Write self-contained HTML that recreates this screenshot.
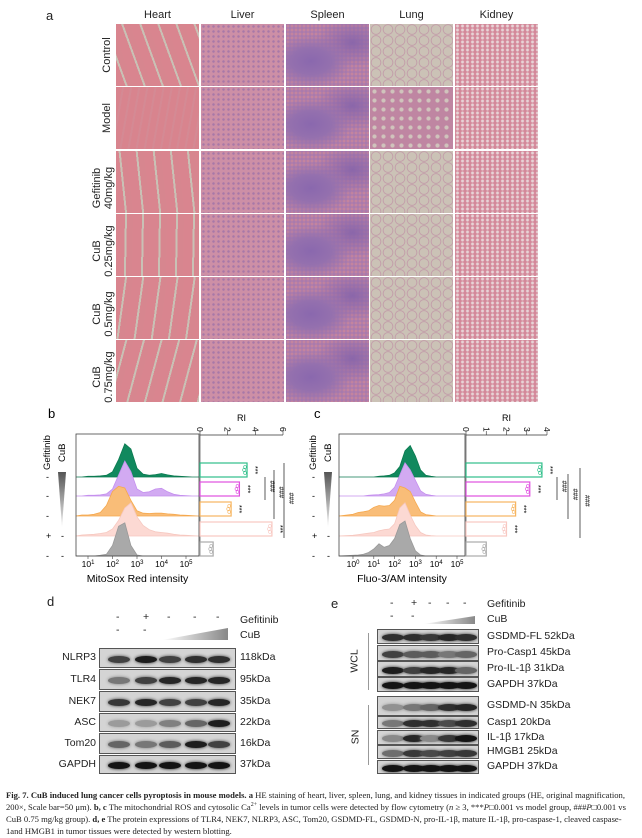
<!DOCTYPE html>
<html><head><meta charset="utf-8">
<style>
body{margin:0;background:#fff;width:642px;height:838px;overflow:hidden;position:relative;font-family:"Liberation Sans",sans-serif;color:#222}
.abs{position:absolute}
.cell{position:absolute;width:83px;height:62px}
.hdr{position:absolute;top:9px;font-size:11px;width:83px;text-align:center}
.rl{position:absolute;font-size:11px;transform:rotate(-90deg);transform-origin:center;text-align:center;line-height:12px;white-space:nowrap}
.blot{position:absolute;background:#d4d4d4;border:1px solid #555;box-sizing:border-box;overflow:hidden}
.band{position:absolute;border-radius:50%}
.lab{position:absolute;font-size:10.5px;white-space:nowrap}
.cap{position:absolute;left:6px;width:632px;font-family:"Liberation Serif",serif;font-size:8.6px;line-height:12px;color:#222}
</style></head><body>
<div class="abs" style="left:46px;top:8px;font-size:13px">a</div>
<div id="histo"></div>
<svg id="flow" class="abs" style="left:0;top:400px" width="642" height="195" viewBox="0 400 642 195"></svg>
<div id="blots"></div>
<div class="cap" style="top:789px"><b>Fig. 7. CuB induced lung cancer cells pyroptosis in mouse models. a</b> HE staining of heart, liver, spleen, lung, and kidney tissues in indicated groups (HE, original magnification, 200×, Scale bar=50 μm). <b>b, c</b> The mitochondrial ROS and cytosolic Ca<sup style="font-size:6px;line-height:0">2+</sup> levels in tumor cells were detected by flow cytometry (<i>n</i> ≥ 3, ***<i>P</i>□0.001 vs model group, ###<i>P</i>□0.001 vs CuB 0.75 mg/kg group). <b>d, e</b> The protein expressions of TLR4, NEK7, NLRP3, ASC, Tom20, GSDMD-FL, GSDMD-N, pro-IL-1β, mature IL-1β, pro-caspase-1, cleaved caspase-1and HMGB1 in tumor tissues were detected by western blotting.</div>
<script>
// ---------- Panel a histology (decorative) ----------
const organs=['Heart','Liver','Spleen','Lung','Kidney'];
const groups=[['Control'],['Model'],['Gefitinib','40mg/kg'],['CuB','0.25mg/kg'],['CuB','0.5mg/kg'],['CuB','0.75mg/kg']];
const colX=[116,201,286,370,455], rowY=[24,87,151,214,277,340];
const H=document.getElementById('histo');
function tex(o,r){
  if(o===0){ if(r===1) return 'repeating-linear-gradient(100deg,#d8848e 0 6px,#d48a94 6px 8px)';
    return 'repeating-linear-gradient('+(70+r*7)+'deg,#d9858f 0 9px,#c9c1b5 9px 11px,#d7868f 11px 17px)';}
  if(o===1) return 'radial-gradient(circle,#a878a8 0 1px,transparent 1.5px) 0 0/5px 5px,#cd8fa6';
  if(o===2) return 'radial-gradient(ellipse at 30% 60%,#8a68ae 0,#9470ae 25%,transparent 50%),radial-gradient(ellipse at 80% 30%,#8a66aa 0,transparent 40%),radial-gradient(circle,#c4849e 0 1px,transparent 2px) 0 0/4px 4px,#a87aae';
  if(o===3){ if(r===1) return 'radial-gradient(circle,#d0c4bc 0 25%,#bf86a2 40%) 0 0/9px 9px';
    return 'radial-gradient(circle,#cbc2b6 0 50%,#c094a6 60%,#cbc2b6 68%) 0 0/12px 11px';}
  return 'radial-gradient(circle,#e7d3d6 0 1px,transparent 2px) 0 0/5px 4px,#d38899';
}
organs.forEach((o,i)=>{const d=document.createElement('div');d.className='hdr';d.style.left=colX[i]+'px';d.textContent=o;

H.appendChild(d);});
groups.forEach((g,r)=>{
  const l=document.createElement('div');l.className='rl';l.style.width='62px';
  l.style.left=(g.length>1?72:76)+'px';l.style.top=(rowY[r]+25)+'px';l.innerHTML=g.join('<br>');
  
  H.appendChild(l);
  organs.forEach((o,i)=>{const c=document.createElement('div');c.className='cell';c.style.left=colX[i]+'px';c.style.top=rowY[r]+'px';
  c.style.background=tex(i,r);
  
  H.appendChild(c);});
});
</script>
<script>
// ---------- Panels b, c flow cytometry ----------
const sampleNames=['CuB-0.75','CuB-0.5','CuB-0.25','Gefitinib','Control'];
const bRI=[3.4,2.85,2.25,5.2,0.95];
const cRI=[3.75,3.15,2.45,2.0,1.0];
const bTicks=[0,2,4,6];
const cTicks=[0,1,2,3,4];
const logBins=[0,0.25,0.5,0.75,1,1.25,1.5,1.75,2,2.25,2.5,2.75,3,3.25,3.5,3.75,4,4.25,4.5,4.75,5,5.25,5.5];
const bGreen=[0,0,0,0,0.02,0.02,0.03,0.05,0.15,0.5,0.95,0.8,0.25,0.08,0.05,0.07,0.1,0.06,0.03,0.02,0.01,0,0];
const bPurple=[0,0,0,0,0.02,0.02,0.03,0.06,0.2,0.6,1.0,0.7,0.2,0.1,0.12,0.2,0.22,0.12,0.05,0.02,0.01,0,0];
const bOrange=[0.25,0.05,0.03,0.03,0.03,0.05,0.1,0.3,0.7,0.85,0.8,0.45,0.15,0.08,0.07,0.08,0.08,0.06,0.05,0.03,0.02,0.01,0];
const bPink=[0,0.02,0.03,0.03,0.04,0.05,0.07,0.1,0.2,0.45,0.8,0.95,0.55,0.3,0.18,0.12,0.1,0.08,0.05,0.03,0.02,0.01,0];
const bGray=[0,0,0,0,0,0,0.02,0.05,0.3,0.85,0.95,0.3,0.03,0,0,0,0,0,0,0,0,0,0];
const cGreen=[0,0,0,0,0,0.02,0.03,0.05,0.12,0.3,0.75,0.9,0.6,0.2,0.05,0.02,0,0,0,0,0,0,0];
const cPurple=[0,0,0,0.02,0.03,0.04,0.06,0.1,0.25,0.6,0.95,0.75,0.45,0.15,0.05,0.02,0,0,0,0,0,0,0];
const cOrange=[0.05,0.1,0.12,0.15,0.25,0.3,0.28,0.3,0.45,0.85,0.8,0.7,0.4,0.12,0.04,0.02,0,0,0,0,0,0,0];
const cPink=[0.02,0.04,0.06,0.08,0.1,0.15,0.18,0.2,0.35,0.8,0.95,0.6,0.3,0.1,0.03,0.01,0,0,0,0,0,0,0];
const cGray=[0.02,0.03,0.05,0.1,0.2,0.35,0.25,0.3,0.5,0.9,1.0,0.5,0.15,0.03,0,0,0,0,0,0,0,0,0];
const gefSigns=['-','-','-','+','-'];
const fills=['#11895e','#d2aaf2','#f9bd78','#fcd9d3','#a9a9a9'];
const strokes=['#0b7a50','#c590ee','#f5a84e','#f6c8c0','#999'];
const barStroke=['#2fbf8a','#e050e0','#f7b560','#f8c8c2','#aaa'];
const S=document.getElementById('flow');const NS='http://www.w3.org/2000/svg';
function el(t,a,txt){const e=document.createElementNS(NS,t);for(const k in a)e.setAttribute(k,a[k]);if(txt!==undefined)e.textContent=txt;S.appendChild(e);return e;}
const baselines=[477,496,516,536,556];
function panel(P){
  const bx=P.box;
  P.hists.forEach((h,i)=>{
    const base=baselines[i];let d='M'+bx[0]+','+base;
    logBins.forEach((L,k)=>{const x=P.xs(L);if(x<bx[0]||x>bx[1])return;d+=' L'+x.toFixed(1)+','+(base-h[k]*35).toFixed(1);});
    d+=' L'+bx[1]+','+base+' Z';
    const p=el('path',{d:d,fill:fills[i],stroke:strokes[i],'stroke-width':0.8});
    
    
  });
  const r=el('rect',{x:bx[0],y:434,width:bx[1]-bx[0],height:122,fill:'none',stroke:'#444','stroke-width':0.8});
  
  
  P.dec.forEach(L=>{const x=P.xs(L);el('line',{x1:x,y1:556,x2:x,y2:559,stroke:'#444','stroke-width':0.6});
    const t=el('text',{x:x,y:567,'font-size':8.5,'text-anchor':'middle'});t.innerHTML='10<tspan font-size="6" dy="-3">'+L+'</tspan>';
    
    });
  const xt=el('text',{x:(bx[0]+bx[1])/2,y:582,'font-size':10.5,'text-anchor':'middle'},P.xTitle);
  
  
  const ax=el('line',{x1:P.r0,y1:435,x2:P.r(P.ticks[P.ticks.length-1]),y2:435,stroke:'#333','stroke-width':0.8});
  
  
  P.ticks.forEach(v=>{const x=P.r(v);el('line',{x1:x,y1:431,x2:x,y2:435,stroke:'#333','stroke-width':0.6});
    const t=el('text',{x:x-3,y:427,'font-size':8.5,transform:'rotate(90 '+(x-3)+' 427)'},String(v));
    
    });
  el('line',{x1:P.r0,y1:435,x2:P.r0,y2:556,stroke:'#333','stroke-width':0.6});
  const ri=el('text',{x:(P.r0+P.r(P.ticks[P.ticks.length-1]))/2,y:421,'font-size':9,'text-anchor':'middle'},'RI');
  
  
  P.vals.forEach((v,i)=>{const y=baselines[i]-14;
    const b=el('rect',{x:P.r0,y:y,width:P.r(v)-P.r0,height:14,fill:'#fff',stroke:barStroke[i],'stroke-width':1.2});
    
    
    for(let k=0;k<3;k++){el('circle',{cx:P.r(v)-2-k%2,cy:y+4+k*3,r:1.4,fill:'none',stroke:barStroke[i],'stroke-width':0.6});}
    if(i<4){const sx=P.r(v)+6;const st=el('text',{x:sx,y:y+3,'font-size':7,transform:'rotate(90 '+sx+' '+(y+3)+')'},'***');
      
      }
  });
  P.hash.forEach((hsh,j)=>{const x=hsh[0];el('line',{x1:x,y1:hsh[1],x2:x,y2:hsh[2],stroke:'#333','stroke-width':0.8});
    const tx=x+5,ty=hsh[1]+(hsh[2]-hsh[1])/2-8;const t=el('text',{x:tx,y:ty,'font-size':7,transform:'rotate(90 '+tx+' '+ty+')'},'###');
    
    });
  const g1=el('text',{x:P.lx,y:470,'font-size':9.5,transform:'rotate(-90 '+P.lx+' 470)'},'Gefitinib');
  
  const g2=el('text',{x:P.lx+15,y:462,'font-size':9.5,transform:'rotate(-90 '+(P.lx+15)+' 462)'},'CuB');
  
  gefSigns.forEach((s,i)=>{el('text',{x:P.lx-4,y:baselines[i]+3,'font-size':9},s);
    if(i>=3)el('text',{x:P.lx+11,y:baselines[i]+3,'font-size':9},'-');});
  const gid=P.id+'grad';const defs=el('defs',{});defs.innerHTML='<linearGradient id="'+gid+'" x1="0" y1="0" x2="0" y2="1"><stop offset="0" stop-color="#555"/><stop offset="1" stop-color="#eee"/></linearGradient>';
  const tri=el('path',{d:'M'+(P.lx+8)+',472 L'+(P.lx+16)+',472 L'+(P.lx+12)+',527 Z',fill:'url(#'+gid+')'});
  
  const pl=el('text',{x:P.lx-2,y:418,'font-size':13},P.id);
  
}
panel({id:'b',box:[76,199],xs:L=>88+(L-1)*24.5,dec:[1,2,3,4,5],xTitle:'MitoSox Red intensity',
  r0:200,r:v=>200+v*83/6,ticks:bTicks,vals:bRI,hists:[bGreen,bPurple,bOrange,bPink,bGray],
  hash:[[265,477,500],[274,470,519],[284,463,538]],lx:50});
panel({id:'c',box:[339,465],xs:L=>353+L*20.8,dec:[0,1,2,3,4,5],xTitle:'Fluo-3/AM intensity',
  r0:466,r:v=>466+v*81/4,ticks:cTicks,vals:cRI,hists:[cGreen,cPurple,cOrange,cPink,cGray],
  hash:[[557,477,500],[568,474,519],[580,468,538]],lx:316});
</script>
<script>
// ---------- Panels d, e western blots ----------
const dProteins=['NLRP3','TLR4','NEK7','ASC','Tom20','GAPDH'];
const dKda=['118kDa','95kDa','35kDa','22kDa','16kDa','37kDa'];
const dNLRP3=[0.75,0.95,0.75,0.85,0.85];
const dTLR4=[0.45,0.75,0.9,0.9,0.9];
const dNEK7=[0.8,0.9,0.75,0.75,0.9];
const dASC=[0.25,0.25,0.4,0.55,0.95];
const dTom20=[0.55,0.45,0.6,0.95,0.75];
const dGAPDH=[1,1,1,1,1];
const eProteins=['GSDMD-FL 52kDa','Pro-Casp1 45kDa','Pro-IL-1β 31kDa','GAPDH 37kDa','GSDMD-N 35kDa','Casp1 20kDa','IL-1β 17kDa','HMGB1 25kDa','GAPDH 37kDa'];
const eGSDMDFL=[0.85,0.85,0.8,0.9,0.85];
const eProCasp1=[0.75,0.6,0.6,0.45,0.55];
const eProIL1b=[0.95,0.75,0.9,0.9,0.55];
const eGAPDH1=[1,1,1,1,1];
const eGSDMDN=[0.3,0.45,0.55,0.85,0.9];
const eCasp1=[0.45,0.85,0.85,0.7,0.85];
const eIL1b=[0.35,0.9,0.35,0.8,1.0];
const eHMGB1=[0.5,0.8,0.7,0.75,0.8];
const eGAPDH2=[1,1,1,1,1];
const B=document.getElementById('blots');
function add(tag,cls,st,html,name){const e=document.createElement(tag);if(cls)e.className=cls;Object.assign(e.style,st);if(html!==undefined)e.innerHTML=html;
 
 
 B.appendChild(e);return e;}
function blot(x,y,w,h,vals,name,lanes){const b=add('div','blot',{left:x+'px',top:y+'px',width:w+'px',height:h+'px'},undefined,name);
 vals.forEach((v,i)=>{const bd=document.createElement('div');bd.className='band';const c=Math.round(200-v*180);
  Object.assign(bd.style,{left:(lanes[i]-x-11)+'px',top:(h/2-3.5)+'px',width:'22px',height:'7px',background:'rgb('+c+','+c+','+c+')',boxShadow:'0 0 3px rgb('+c+','+c+','+c+')'});
  
  
  b.appendChild(bd);});}
add('div','lab',{left:'47px',top:'594px',fontSize:'13px'},'d','panel-d-label');
const dLanes=[118,145,169,195,218];
const dRows=[[648,20],[669,21],[691,21],[713,19],[733,21],[755,19]];
const dVals=[dNLRP3,dTLR4,dNEK7,dASC,dTom20,dGAPDH];
dRows.forEach((r,i)=>{blot(99,r[0],137,r[1],dVals[i],'blot-d-'+dProteins[i].toLowerCase(),dLanes);
 add('div','lab',{left:'40px',width:'56px',textAlign:'right',top:(r[0]+r[1]/2-7)+'px'},dProteins[i],'label-d-'+dProteins[i].toLowerCase());
 add('div','lab',{left:'240px',top:(r[0]+r[1]/2-7)+'px'},dKda[i],'kda-d-'+i);});
['-','+','-','-','-'].forEach((s,i)=>add('div','lab',{left:(dLanes[i]-2)+'px',top:'611px'},s,'d-gefitinib-sign-'+i));
['-','-'].forEach((s,i)=>add('div','lab',{left:(dLanes[i]-2)+'px',top:'624px'},s,'d-cub-sign-'+i));
add('div','lab',{left:'240px',top:'614px'},'Gefitinib','d-gefitinib-label');
add('div','lab',{left:'240px',top:'629px'},'CuB','d-cub-label');
add('div','',{position:'absolute',left:'162px',top:'628px',width:'66px',height:'12px',background:'linear-gradient(90deg,#fff,#888)',clipPath:'polygon(0 100%,100% 0,100% 100%)'},undefined,'d-cub-gradient');
add('div','lab',{left:'331px',top:'596px',fontSize:'13px'},'e','panel-e-label');
const eLanes=[392,413,430,448,465];
const eRows=[[629,15],[645,16],[661,16],[677,15],[696,20],[716,13],[730,15],[745,14],[760,14]];
const eVals=[eGSDMDFL,eProCasp1,eProIL1b,eGAPDH1,eGSDMDN,eCasp1,eIL1b,eHMGB1,eGAPDH2];
eRows.forEach((r,i)=>{blot(377,r[0],102,r[1],eVals[i],'blot-e-'+i,eLanes);
 add('div','lab',{left:'487px',top:(r[0]+r[1]/2-7)+'px'},eProteins[i],'label-e-'+i);});
['-','+','-','-','-'].forEach((s,i)=>add('div','lab',{left:(eLanes[i]-2)+'px',top:'597px'},s,'e-gefitinib-sign-'+i));
['-','-'].forEach((s,i)=>add('div','lab',{left:(eLanes[i]-2)+'px',top:'610px'},s,'e-cub-sign-'+i));
add('div','lab',{left:'487px',top:'598px'},'Gefitinib','e-gefitinib-label');
add('div','lab',{left:'487px',top:'613px'},'CuB','e-cub-label');
add('div','',{position:'absolute',left:'423px',top:'616px',width:'52px',height:'8px',background:'linear-gradient(90deg,#fff,#888)',clipPath:'polygon(0 100%,100% 0,100% 100%)'},undefined,'e-cub-gradient');
add('div','',{position:'absolute',left:'368px',top:'633px',width:'1px',height:'57px',background:'#999'},undefined,'wcl-bracket');
add('div','',{position:'absolute',left:'368px',top:'705px',width:'1px',height:'60px',background:'#999'},undefined,'sn-bracket');
add('div','lab',{left:'343px',top:'655px',transform:'rotate(-90deg)'},'WCL','wcl-label');
add('div','lab',{left:'348px',top:'731px',transform:'rotate(-90deg)'},'SN','sn-label');
</script>
</body></html>
